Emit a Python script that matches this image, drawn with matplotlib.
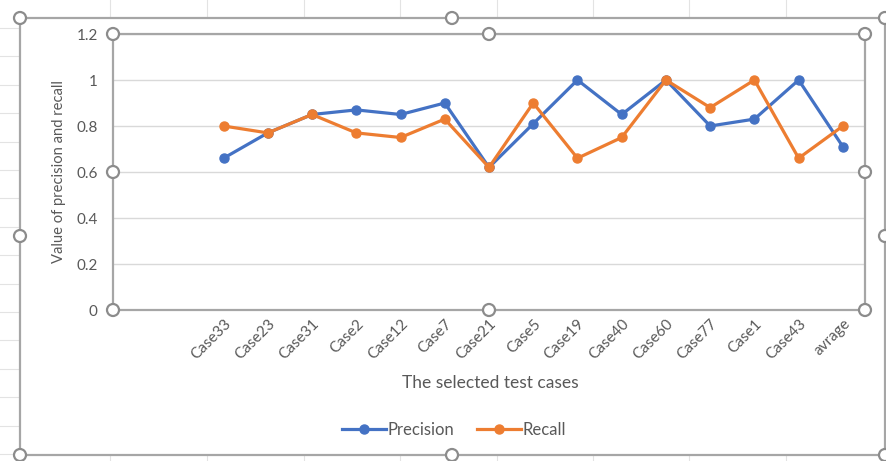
import matplotlib
matplotlib.use("Agg")
import matplotlib.pyplot as plt
from matplotlib.patches import Circle, Rectangle

plt.rcParams['font.family'] = ['Lato', 'DejaVu Sans']

cases = ['Case33', 'Case23', 'Case31', 'Case2', 'Case12', 'Case7', 'Case21', 'Case5',
         'Case19', 'Case40', 'Case60', 'Case77', 'Case1', 'Case43', 'avrage']
precision = [0.66, 0.77, 0.85, 0.87, 0.85, 0.90, 0.62, 0.81, 1.00, 0.85, 1.00, 0.80, 0.83, 1.00, 0.71]
recall = [0.80, 0.77, 0.85, 0.77, 0.75, 0.83, 0.62, 0.90, 0.66, 0.75, 1.00, 0.88, 1.00, 0.66, 0.80]

W, H = 887, 461
txt = '#595959'
edge = '#A6A6A6'

fig = plt.figure(figsize=(W / 100, H / 100), dpi=100)

# spreadsheet behind the chart (pixel coordinates)
bg = fig.add_axes([0, 0, 1, 1], zorder=-2)
bg.set_xlim(0, W)
bg.set_ylim(H, 0)
bg.axis('off')
for x in [110, 207, 304, 400, 497, 593, 689, 786]:
    bg.plot([x, x], [0, H], color='#E3E3E3', lw=0.8, zorder=1)
for k in range(17):
    y = 28 + k * 28.4
    bg.plot([0, 20], [y, y], color='#E3E3E3', lw=0.8, zorder=1)
bg.add_patch(Rectangle((20, 18), 865, 437, facecolor='white', edgecolor=edge, lw=1.6, zorder=3))

# the chart itself
ax = fig.add_axes([113 / W, 1 - 310 / H, (865 - 113) / W, (310 - 34) / H])
xs = range(len(cases))
ax.plot(xs, precision, color='#4472C4', lw=2.3, marker='o', ms=6.5, label='Precision', zorder=3)
ax.plot(xs, recall, color='#ED7D31', lw=2.3, marker='o', ms=6.5, label='Recall', zorder=3)

ax.set_xlim(-2.5, len(cases) - 0.5)
ax.set_ylim(0, 1.2)
yt = [0, 0.2, 0.4, 0.6, 0.8, 1.0, 1.2]
ax.set_yticks(yt)
ax.set_yticklabels(['0', '0.2', '0.4', '0.6', '0.8', '1', '1.2'])
ax.set_xticks(list(xs))
ax.set_xticklabels(cases, rotation=45, ha='right', rotation_mode='anchor')
ax.tick_params(length=0, colors=txt, labelsize=11)
ax.tick_params(axis='y', pad=11)
ax.tick_params(axis='x', pad=5)
ax.grid(axis='y', color='#D9D9D9', lw=1)
ax.set_axisbelow(True)
for s in ax.spines.values():
    s.set_color(edge)
    s.set_linewidth(1.6)

fig.text(490 / W, 1 - 383 / H, 'The selected test cases', ha='center', va='center',
         color=txt, fontsize=12.5)
fig.text(59 / W, 1 - 172 / H, 'Value of precision and recall', ha='center', va='center',
         rotation=90, color=txt, fontsize=10.6)

fig.legend(loc='center', bbox_to_anchor=(454 / W, 1 - 430 / H), ncol=2, frameon=False,
           fontsize=12, handlelength=2.6, handletextpad=0.1, columnspacing=1.4,
           labelcolor=txt)

# selection handles on top
ov = fig.add_axes([0, 0, 1, 1], zorder=5)
ov.set_xlim(0, W)
ov.set_ylim(H, 0)
ov.axis('off')
ov.patch.set_alpha(0)
handles = [(113, 34), (489, 34), (865, 34), (113, 172), (865, 172), (113, 310), (489, 310), (865, 310),
           (20, 18), (452, 18), (885, 18), (20, 236), (885, 236), (20, 455), (452, 455), (885, 455)]
for hx, hy in handles:
    ov.add_patch(Circle((hx, hy), 6, facecolor='white', edgecolor='#8C8C8C', lw=1.6))

fig.savefig('out.png', dpi=100)
